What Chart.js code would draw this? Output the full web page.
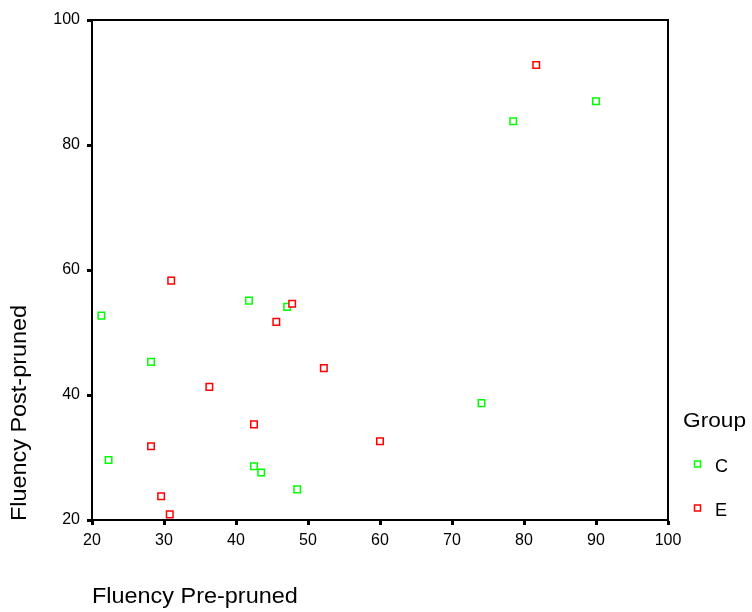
<!DOCTYPE html>
<html>
<head>
<meta charset="utf-8">
<script src="https://cdn.jsdelivr.net/npm/chart.js@4.4.0/dist/chart.umd.min.js"></script>
<style>
  html, body { margin: 0; padding: 0; background: #fff; }
  #wrap { width: 752px; height: 612px; }
</style>
</head>
<body>
<div id="wrap"><canvas id="myChart" width="752" height="612"></canvas></div>
<script>
// Fluency scores
var groupNames = ['C', 'E'];
var cPre  = [21.3, 22.3, 28.2, 41.8, 42.5, 43.5, 47.1, 48.5, 74.1, 78.5, 90.0];
var cPost = [52.7, 29.6, 45.3, 55.1, 28.6, 27.6, 54.1, 24.9, 38.7, 83.8, 87.0];
var ePre  = [28.2, 29.6, 30.8, 31.0, 36.3, 42.5, 45.6, 47.8, 52.2, 60.0, 81.7];
var ePost = [31.8, 23.8, 20.9, 58.3, 41.3, 35.3, 51.7, 54.6, 44.3, 32.6, 92.8];

var xTitle = 'Fluency Pre-pruned';
var yTitle = 'Fluency Post-pruned';
var legendTitle = 'Group';
var FONT = '"Liberation Sans", Arial, sans-serif';

function toPoints(xs, ys) {
    var pts = [];
    xs.forEach(function (x, i) {
        pts.push({ x: x, y: ys[i] });
    });
    return pts;
}

var colors = ['#00ff00', '#ff0000'];

// the SPSS text is a bit wider than Arial, so stretch it a little
function wideText(ctx, text, x, y, sx) {
    ctx.save();
    ctx.translate(x, y);
    ctx.scale(sx, 1);
    ctx.fillText(text, 0, 0);
    ctx.restore();
}

// frame, titles and the group legend, placed like the SPSS output
var extras = {
    id: 'extras',
    afterDraw: function (chart) {
        var ctx = chart.ctx;
        var a = chart.chartArea;
        ctx.save();
        ctx.strokeStyle = '#000';
        ctx.lineWidth = 2;
        ctx.beginPath();
        ctx.moveTo(a.left, a.top);
        ctx.lineTo(a.right, a.top);
        ctx.lineTo(a.right, a.bottom);
        ctx.stroke();

        ctx.fillStyle = '#000';
        ctx.font = '22px ' + FONT;
        ctx.textAlign = 'left';
        ctx.textBaseline = 'middle';
        wideText(ctx, xTitle, a.left, 597, 1.065);

        ctx.save();
        ctx.translate(20, 413);
        ctx.rotate(-Math.PI / 2);
        ctx.textAlign = 'center';
        wideText(ctx, yTitle, 0, 0, 1.065);
        ctx.restore();

        ctx.font = '21px ' + FONT;
        wideText(ctx, legendTitle, 683, 421, 1.08);

        ctx.font = '18px ' + FONT;
        ctx.lineWidth = 1.5;
        groupNames.forEach(function (name, i) {
            var y = 464 + i * 44;
            ctx.strokeStyle = colors[i];
            ctx.strokeRect(694.5, y - 3, 6, 6);
            ctx.fillStyle = '#000';
            ctx.fillText(name, 715, y + 3);
        });
        ctx.restore();
    }
};

var ctx = document.getElementById('myChart').getContext('2d');
var myChart = new Chart(ctx, {
    type: 'scatter',
    data: {
        datasets: [{
            label: groupNames[0],
            data: toPoints(cPre, cPost),
            borderColor: colors[0],
            backgroundColor: '#fff',
            order: 1
        }, {
            label: groupNames[1],
            data: toPoints(ePre, ePost),
            borderColor: colors[1],
            backgroundColor: '#fff',
            order: 0
        }]
    },
    options: {
        responsive: false,
        animation: false,
        layout: { padding: { left: 0, top: 20, right: 84, bottom: 0 } },
        elements: {
            point: { pointStyle: 'rect', radius: 4.6, borderWidth: 1.5, hoverRadius: 4.6 }
        },
        plugins: {
            legend: { display: false },
            tooltip: { enabled: false }
        },
        scales: {
            x: {
                type: 'linear',
                min: 20,
                max: 100,
                afterFit: function (scale) { scale.height = 92; },
                ticks: { stepSize: 10, color: '#000', padding: 6, maxRotation: 0, font: { size: 16, family: FONT } },
                grid: { drawOnChartArea: false, drawTicks: true, tickLength: 5, tickWidth: 3, tickColor: '#000' },
                border: { display: true, color: '#000', width: 2 }
            },
            y: {
                type: 'linear',
                min: 20,
                max: 100,
                afterFit: function (scale) { scale.width = 92; },
                ticks: { stepSize: 20, color: '#000', padding: 7, font: { size: 16, family: FONT } },
                grid: { drawOnChartArea: false, drawTicks: true, tickLength: 5, tickWidth: 3, tickColor: '#000' },
                border: { display: true, color: '#000', width: 2 }
            }
        }
    },
    plugins: [extras]
});
</script>
</body>
</html>
